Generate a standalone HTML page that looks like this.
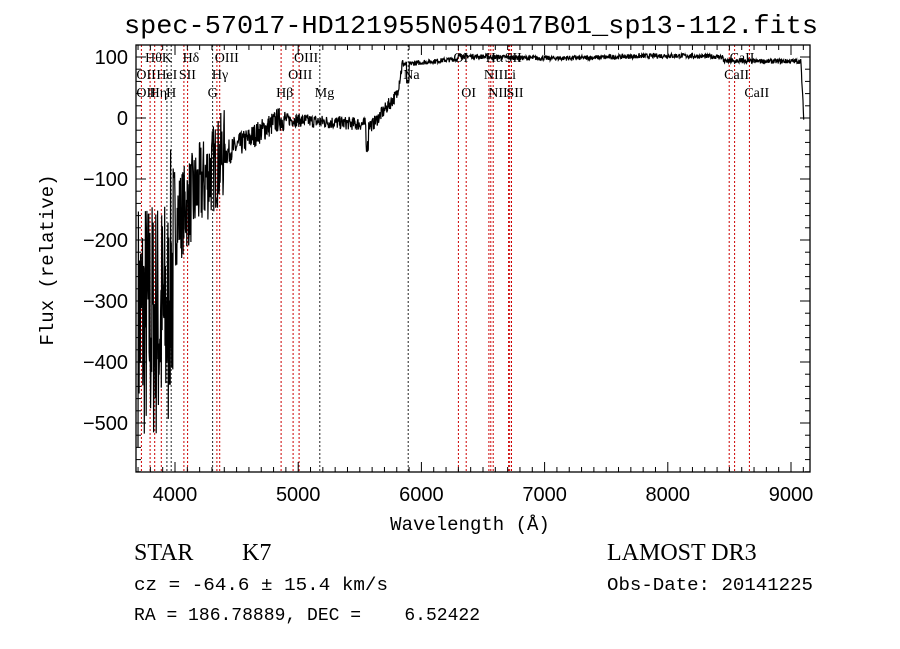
<!DOCTYPE html>
<html><head><meta charset="utf-8"><style>
body{margin:0;background:#fff;}
svg{display:block}
.t{font-family:"Liberation Serif",serif;}
.m{font-family:"Liberation Mono",monospace;}
</style></head><body>
<svg id="s" width="900" height="649" xmlns="http://www.w3.org/2000/svg">
<rect width="900" height="649" fill="#fff"/>
<text class="m" x="471" y="33" font-size="26" text-anchor="middle" textLength="694" lengthAdjust="spacingAndGlyphs">spec-57017-HD121955N054017B01_sp13-112.fits</text>
<g id="g"></g>
<text class="m" x="470" y="530" font-size="19" text-anchor="middle">Wavelength (Å)</text>
<text class="m" font-size="19" text-anchor="middle" transform="translate(53,260) rotate(-90)">Flux (relative)</text>
<text class="t" x="134" y="560" font-size="24">STAR</text>
<text class="t" x="242" y="560" font-size="24">K7</text>
<text class="t" x="607" y="560" font-size="24">LAMOST DR3</text>
<text class="m" x="134" y="590" font-size="18" textLength="254" lengthAdjust="spacingAndGlyphs">cz = -64.6 ± 15.4 km/s</text>
<text class="m" x="607" y="590" font-size="18" textLength="206" lengthAdjust="spacingAndGlyphs">Obs-Date: 20141225</text>
<text class="m" x="134" y="620" font-size="18" xml:space="preserve" textLength="346" lengthAdjust="spacingAndGlyphs">RA = 186.78889, DEC =    6.52422</text>
</svg>
<script>
var L=136,R=810,T=45,B=472;
function X(l){return 175+(l-4000)*0.1232;}
function Y(f){return 118-0.61*f;}
var h='';
var lines=[3727,3798,3835,3889,3934,3969,4072,4102,4305,4340,4363,4861,4959,5007,5175,5893,6300,6364,6548,6563,6583,6708,6717,6731,8498,8542,8662];
lines.forEach(function(l){var c=(l==3934||l==3969||l==4305||l==5175||l==5893)?'#222':'#c00';
h+='<line x1="'+X(l).toFixed(1)+'" y1="'+T+'" x2="'+X(l).toFixed(1)+'" y2="'+B+'" stroke="'+c+'" stroke-width="1" stroke-dasharray="2,2"/>';});
var seed=7;function rnd(){seed=(seed*16807)%2147483647;return seed/2147483647;}
function base(l){
if(l<3950)return -330;
if(l<4000)return -260;
if(l<4400)return -170+(l-4000)*0.28;
if(l<4850)return -60+(l-4400)*0.13;
if(l<5600)return -2-(l-4850)*0.012;
if(l<5800)return -12+(l-5600)*0.25;
if(l<5850)return 38+(l-5800)*1.1;
if(l<6300)return 88+(l-5850)*0.02;
if(l<8450)return 100+2*Math.sin(l/300);
if(l<9080)return 93;
return 93-(l-9080)*4;}
function amp(l){if(l<4000)return 420;if(l<4400)return 150;if(l<4900)return 40;if(l<5850)return 22;return 8;}
var p=[];
for(var l=3700;l<=9105;l+=3){var f=base(l)+(rnd()-0.5)*amp(l);
if(l>5550&&l<5570)f-=35;if(l>5880&&l<5900)f-=30;
f=Math.max(-545,Math.min(115,f));
p.push(X(l).toFixed(1)+','+Y(f).toFixed(1));}
h+='<polyline points="'+p.join(' ')+'" fill="none" stroke="#000" stroke-width="1.2"/>';
h+='<rect x="'+L+'" y="'+T+'" width="'+(R-L)+'" height="'+(B-T)+'" fill="none" stroke="#000" stroke-width="1.3"/>';
for(var l=3700;l<=9100;l+=100){var x=X(l);if(x<L||x>R)continue;var len=(l%1000==0)?10:5;
h+='<line x1="'+x+'" y1="'+B+'" x2="'+x+'" y2="'+(B-len)+'" stroke="#000"/><line x1="'+x+'" y1="'+T+'" x2="'+x+'" y2="'+(T+len)+'" stroke="#000"/>';
if(l%1000==0)h+='<text x="'+x+'" y="'+(B+29)+'" font-family="Liberation Sans,sans-serif" font-size="20" text-anchor="middle">'+l+'</text>';}
for(var f=-580;f<=120;f+=20){var y=Y(f);if(y<T||y>B)continue;var len=(f%100==0)?10:5;
h+='<line x1="'+L+'" y1="'+y+'" x2="'+(L+len)+'" y2="'+y+'" stroke="#000"/><line x1="'+R+'" y1="'+y+'" x2="'+(R-len)+'" y2="'+y+'" stroke="#000"/>';
if(f%100==0)h+='<text x="'+(L-8)+'" y="'+(y+7)+'" font-family="Liberation Sans,sans-serif" font-size="20" text-anchor="end">'+(f<0?'\u2212'+(-f):f)+'</text>';}
var labs=[[3798,57,'Hθ'],[3934,57,'K'],[4102,57,'Hδ'],[4363,57,'OIII'],[5007,57,'OIII'],[6300,57,'OI'],[6563,57,'Hα'],[6717,57,'SII'],[8542,57,'CaII'],
[3727,74,'OII'],[3889,74,'HeI'],[4072,74,'SII'],[4340,74,'Hγ'],[4959,74,'OIII'],[5893,74,'Na'],[6548,74,'NII'],[6708,74,'Li'],[8498,74,'CaII'],
[3727,92,'OII'],[3835,92,'Hη'],[3969,92,'H'],[4305,92,'G'],[4861,92,'Hβ'],[5175,92,'Mg'],[6364,92,'OI'],[6583,92,'NII'],[6731,92,'SII'],[8662,92,'CaII']];
labs.forEach(function(a){h+='<text x="'+(X(a[0])-5)+'" y="'+(a[1]+5)+'" font-family="Liberation Serif,serif" font-size="14">'+a[2]+'</text>';});
document.getElementById('g').innerHTML=h;
</script>
</body></html>
